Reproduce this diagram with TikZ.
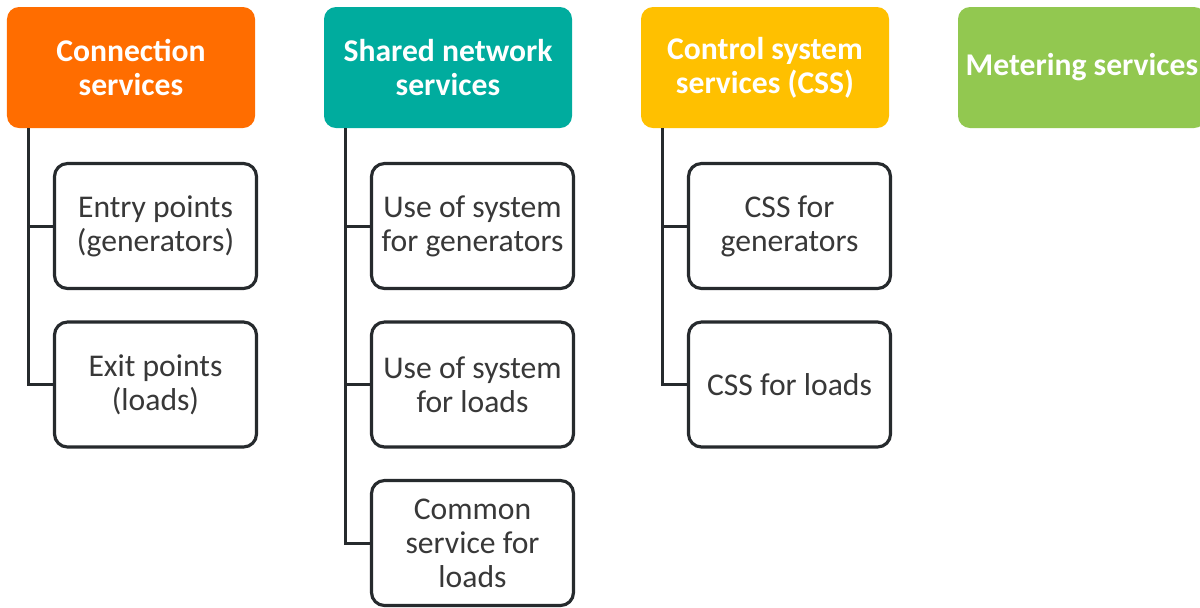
\documentclass[tikz,border=0pt]{standalone}
\usepackage{fontspec}
\setmainfont{Carlito}

\definecolor{connorange}{HTML}{FF6D00}
\definecolor{sharedteal}{HTML}{00AC9E}
\definecolor{cssyellow}{HTML}{FFC000}
\definecolor{metergreen}{HTML}{92C850}
\definecolor{linegray}{HTML}{262A2D}
\definecolor{textgray}{HTML}{383838}

\tikzset{
  head/.style={rounded corners=0.24cm, minimum width=4.96cm, minimum height=2.42cm,
    inner sep=0pt, text=white, align=center, font=\bfseries\fontsize{18}{19.4}\selectfont},
  item/.style={draw=linegray, line width=1.8pt, rounded corners=0.26cm, fill=white,
    minimum width=4.04cm, minimum height=2.5cm, inner sep=0pt, text=textgray,
    align=center, font=\fontsize{18}{19.4}\selectfont},
  link/.style={draw=linegray, line width=1.7pt}
}

\begin{document}
\begin{tikzpicture}
    \useasboundingbox (0,0) rectangle (24,-12.14);
    \def\xs{6.34} %shift between columns
    \def\ys{3.17} %shift between items

    % the coloured headers
    \foreach \n/\col/\txt in {1/connorange/{Connection\\services},
                              2/sharedteal/{Shared network\\services},
                              3/cssyellow/{Control system\\services (CSS)},
                              4/metergreen/{Metering services}}
    {
    \node [head, fill=\col] (h\n) at ({2.62+(\n-1)*\xs}, -1.35) {\txt};
    }

    % column 1
    \node [item] (i11) at (3.11, -4.52) {Entry points\\(generators)};
    \node [item] (i12) at (3.11, -4.52-\ys) {Exit points\\(loads)};
    % column 2
    \node [item] (i21) at (3.11+\xs, -4.52) {Use of system\\for generators};
    \node [item] (i22) at (3.11+\xs, -4.52-\ys) {Use of system\\for loads};
    \node [item] (i23) at (3.11+\xs, -4.52-2*\ys) {Common\\service for\\loads};
    % column 3
    \node [item] (i31) at (3.11+2*\xs, -4.52) {CSS for\\generators};
    \node [item] (i32) at (3.11+2*\xs, -4.52-\ys) {CSS for loads};

    % the tree lines
    \foreach \n/\last in {1/2, 2/3, 3/2}
    {
    \coordinate (t\n) at ([xshift=0.44cm]h\n.south west);
    \draw [link] (t\n) |- (i\n\last.west);
    \foreach \k in {1,...,\last}
        \draw [link] (t\n |- i\n\k.west) -- (i\n\k.west);
    }

\end{tikzpicture}
\end{document}
